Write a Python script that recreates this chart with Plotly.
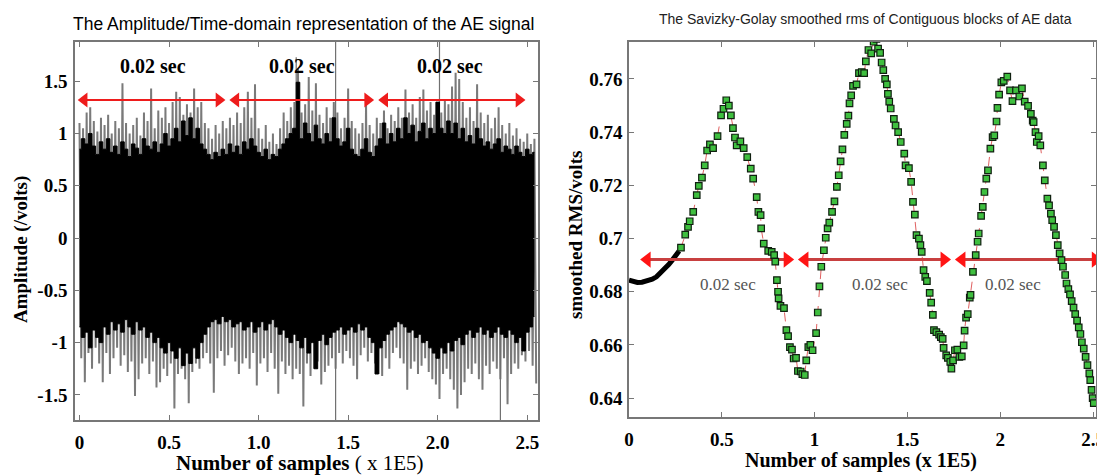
import numpy as np
import plotly.graph_objects as go

W, H = 1097, 475

# ---- left panel: AE signal envelope peaks, one per 0.02 (x 1E5 samples) ----
peak_pos = np.round(np.arange(128) * 0.02, 2)

gray_top = [1.10, 1.05, 1.20, 1.25, 1.12, 1.02, 1.15, 1.08, 1.18, 1.00,
            1.12, 1.05, 1.48, 1.10, 1.00, 1.08, 1.15, 0.98, 1.20, 1.12,
            1.43, 1.05, 1.22, 1.15, 1.25, 1.10, 1.30, 1.40, 1.35, 1.18,
            1.28, 1.20, 1.43, 1.25, 1.30, 1.10, 1.05, 0.95, 1.08, 1.00,
            1.12, 1.05, 1.15, 1.08, 1.20, 1.10, 1.25, 1.40, 1.15, 1.47,
            1.05, 0.95, 1.08, 0.92, 1.00, 0.90, 1.05, 1.20, 1.12, 1.25,
            1.30, 1.62, 1.20, 1.28, 1.54, 1.22, 1.48, 1.18, 1.10, 1.25,
            1.15, 1.30, 1.20, 1.05, 1.15, 1.43, 1.12, 1.05, 1.00, 1.10,
            1.30, 1.08, 1.00, 1.15, 1.10, 1.22, 1.05, 1.18, 1.12, 1.25,
            1.15, 1.42, 1.20, 1.28, 1.15, 1.35, 1.42, 1.22, 1.30, 1.18,
            1.25, 1.20, 1.32, 1.28, 1.45, 1.58, 1.52, 1.30, 1.15, 1.25,
            1.12, 1.47, 1.20, 1.10, 1.18, 1.05, 1.15, 1.25, 1.08, 1.00,
            1.10, 0.98, 1.05, 0.95, 0.92, 1.00, 0.90, 0.95]
gray_bot = [-1.15, -1.38, -1.10, -1.25, -1.05, -1.20, -1.38, -1.10, -1.30, -1.15,
            -1.05, -1.22, -1.12, -1.28, -1.18, -1.51, -1.35, -1.20, -1.15, -1.30,
            -1.18, -1.43, -1.38, -1.25, -1.32, -1.20, -1.63, -1.30, -1.25, -1.35,
            -1.58, -1.28, -1.20, -1.25, -1.15, -1.10, -1.20, -1.48, -1.15, -1.08,
            -1.22, -1.12, -1.05, -1.18, -1.30, -1.20, -1.15, -1.25, -1.10, -1.41,
            -1.20, -1.15, -1.28, -1.10, -1.25, -1.49, -1.18, -1.30, -1.22, -1.35,
            -1.25, -1.30, -1.61, -1.20, -1.32, -1.25, -1.18, -1.40, -1.28, -1.22,
            -1.15, -1.25, -1.10, -1.20, -1.08, -1.15, -1.22, -1.35, -1.12, -1.05,
            -1.18, -1.10, -1.20, -1.30, -1.32, -1.15, -1.25, -1.10, -1.05, -1.15,
            -1.20, -1.45, -1.25, -1.18, -1.30, -1.22, -1.15, -1.28, -1.35, -1.40,
            -1.54, -1.30, -1.25, -1.35, -1.45, -1.63, -1.50, -1.38, -1.25, -1.30,
            -1.20, -1.35, -1.45, -1.22, -1.30, -1.18, -1.25, -1.35, -1.15, -1.59,
            -1.30, -1.20, -1.25, -1.12, -1.18, -1.08, -1.22, -1.39]
black_top = [0.85, 0.95, 0.90, 1.00, 0.88, 0.80, 0.92, 0.85, 0.95, 0.82,
             0.88, 0.80, 0.92, 0.85, 0.78, 0.90, 0.86, 0.80, 0.95, 0.88,
             0.85, 0.92, 0.82, 0.90, 1.00, 0.88, 0.95, 1.05, 0.92, 1.12,
             0.98, 1.15, 0.95, 1.05, 0.90, 0.85, 0.80, 0.75, 0.82, 0.78,
             0.85, 0.80, 0.90, 0.82, 0.88, 0.80, 0.92, 0.85, 0.95, 0.88,
             0.82, 0.78, 0.85, 0.75, 0.80, 0.78, 0.85, 0.90, 0.95, 1.00,
             1.05, 1.49, 0.95, 1.10, 1.00, 0.92, 1.08, 0.95, 0.90, 1.00,
             0.92, 1.15, 0.95, 0.88, 0.92, 1.05, 0.85, 0.80, 0.78, 0.85,
             0.95, 0.82, 0.78, 0.88, 0.95, 1.10, 0.90, 1.00, 0.92, 1.05,
             0.95, 1.15, 1.00, 1.08, 0.92, 1.02, 1.10, 0.95, 1.05, 1.00,
             1.30, 1.05, 1.00, 1.12, 1.00, 1.10, 0.95, 1.05, 0.92, 0.98,
             0.90, 1.05, 0.95, 0.88, 0.92, 0.85, 0.90, 0.95, 0.82, 0.88,
             0.85, 0.80, 0.88, 0.82, 0.78, 0.85, 0.80, 0.82]
black_bot = [-0.85, -0.95, -0.90, -1.05, -0.88, -0.95, -1.00, -0.85, -0.92, -0.80,
             -0.88, -0.82, -0.90, -0.78, -0.85, -0.92, -0.80, -0.88, -0.85, -0.95,
             -0.90, -1.00, -0.95, -1.05, -1.10, -1.00, -1.08, -1.15, -1.05, -1.22,
             -1.10, -1.20, -1.05, -1.15, -1.00, -0.92, -0.85, -0.80, -0.78, -0.82,
             -0.75, -0.80, -0.78, -0.85, -0.82, -0.80, -0.88, -0.85, -0.80, -0.90,
             -0.85, -0.80, -0.88, -0.82, -0.78, -0.85, -0.92, -0.88, -0.95, -1.00,
             -0.92, -0.98, -1.05, -0.95, -1.10, -1.00, -1.25, -0.98, -0.92, -1.02,
             -0.95, -0.90, -0.88, -0.85, -0.92, -0.88, -0.85, -0.90, -0.82, -0.88,
             -0.85, -0.95, -1.00, -1.30, -1.05, -0.98, -0.92, -0.88, -0.85, -0.80,
             -0.82, -0.85, -0.90, -0.88, -0.95, -0.92, -1.00, -0.98, -1.05, -1.10,
             -1.15, -1.05, -1.10, -1.00, -1.08, -0.98, -0.95, -1.02, -0.92, -0.88,
             -0.95, -0.90, -0.85, -0.92, -0.88, -0.95, -0.90, -0.85, -0.92, -0.95,
             -0.88, -0.92, -1.00, -0.95, -1.08, -0.90, -0.85, -0.75]

# isolated glitches that run past the plotted range
glitch_x = [1.21, 1.43, 2.01, 2.35]
glitch_lo = [0.0, -1.9, 0.0, -1.9]
glitch_hi = [1.73, 1.9, 1.9, 0.0]

left_arrow_y = 1.32
left_arrows = [(-0.01, 0.815), (0.837, 1.645), (1.668, 2.49)]
left_label_x = [0.41, 1.24, 2.07]
left_label_y = 1.65

# ---- right panel: Savitzky-Golay smoothed rms ----
start_x = [0.0, 0.02, 0.045, 0.07, 0.10, 0.125, 0.148, 0.17, 0.195, 0.215,
           0.233, 0.25, 0.26, 0.27]
start_y = [0.6844, 0.684, 0.6835, 0.6836, 0.684, 0.6847, 0.6856, 0.687, 0.6888,
           0.6903, 0.6919, 0.6932, 0.694, 0.6953]

rms_x = [0.28, 0.303, 0.318, 0.327, 0.346, 0.365, 0.376, 0.393, 0.408, 0.421,
         0.436, 0.453, 0.477, 0.496, 0.509, 0.524, 0.538, 0.549, 0.56, 0.571,
         0.58, 0.60, 0.618, 0.637, 0.656, 0.669, 0.688, 0.697, 0.709, 0.712,
         0.726, 0.75, 0.769, 0.782, 0.788, 0.797, 0.803, 0.806, 0.816, 0.835,
         0.848, 0.857, 0.867, 0.878, 0.887, 0.90, 0.91, 0.925, 0.934, 0.947,
         0.955, 0.966, 0.977, 0.989, 1.008, 1.017, 1.026, 1.036, 1.05, 1.06,
         1.07, 1.079, 1.094, 1.107, 1.12, 1.13, 1.14, 1.15, 1.16, 1.173,
         1.182, 1.188, 1.197, 1.207, 1.226, 1.239, 1.254, 1.267, 1.276, 1.29,
         1.305, 1.318, 1.333, 1.342, 1.353, 1.361, 1.37, 1.38, 1.389, 1.395,
         1.402, 1.41, 1.427, 1.436, 1.45, 1.464, 1.483, 1.49, 1.508, 1.52,
         1.53, 1.54, 1.549, 1.562, 1.57, 1.577, 1.587, 1.596, 1.605, 1.62,
         1.628, 1.637, 1.643, 1.656, 1.671, 1.68, 1.69, 1.695, 1.709, 1.718,
         1.731, 1.737, 1.746, 1.756, 1.769, 1.78, 1.793, 1.803, 1.808, 1.816,
         1.825, 1.836, 1.84, 1.853, 1.868, 1.878, 1.884, 1.897, 1.906, 1.915,
         1.925, 1.934, 1.947, 1.959, 1.968, 1.98, 1.985, 1.994, 2.006, 2.019,
         2.038, 2.053, 2.066, 2.085, 2.103, 2.117, 2.132, 2.15, 2.165, 2.175,
         2.18, 2.19, 2.197, 2.207, 2.216, 2.23, 2.24, 2.254, 2.263, 2.273,
         2.28, 2.29, 2.30, 2.31, 2.32, 2.33, 2.338, 2.35, 2.357, 2.367,
         2.376, 2.385, 2.395, 2.404, 2.414, 2.423, 2.432, 2.44, 2.45, 2.46,
         2.47, 2.48, 2.485, 2.492, 2.498, 2.504]
rms_y = [0.6966, 0.7015, 0.7044, 0.7065, 0.710, 0.7163, 0.7198, 0.7229, 0.7275, 0.7331,
         0.7354, 0.734, 0.7385, 0.7463, 0.7488, 0.752, 0.750, 0.7463, 0.7415, 0.738,
         0.735, 0.7365, 0.734, 0.7306, 0.7263, 0.7225, 0.7156, 0.710, 0.7088, 0.7038,
         0.6981, 0.6954, 0.695, 0.6938, 0.6913, 0.6844, 0.680, 0.6775, 0.6747, 0.6738,
         0.6656, 0.6633, 0.6592, 0.6582, 0.6549, 0.6551, 0.6502, 0.650, 0.649, 0.6487,
         0.6542, 0.6592, 0.660, 0.658, 0.6644, 0.6722, 0.682, 0.6894, 0.6956, 0.7003,
         0.7038, 0.706, 0.710, 0.714, 0.7194, 0.7238, 0.729, 0.7335, 0.739, 0.7431,
         0.7462, 0.7508, 0.7538, 0.7574, 0.758, 0.7622, 0.7626, 0.7622, 0.7666, 0.7709,
         0.7696, 0.774, 0.7751, 0.7714, 0.7698, 0.7662, 0.7633, 0.760, 0.758, 0.7544,
         0.7515, 0.7489, 0.745, 0.7425, 0.740, 0.7363, 0.7319, 0.7275, 0.7265, 0.7213,
         0.7138, 0.709, 0.7013, 0.700, 0.6975, 0.695, 0.6881, 0.6856, 0.684, 0.6796,
         0.6759, 0.6713, 0.6656, 0.6648, 0.6639, 0.6629, 0.6623, 0.6589, 0.6561, 0.6551,
         0.6536, 0.6511, 0.6542, 0.658, 0.6582, 0.6555, 0.6557, 0.6598, 0.6654, 0.6703,
         0.6716, 0.6778, 0.6788, 0.6875, 0.6938, 0.6988, 0.7019, 0.7085, 0.7119, 0.7175,
         0.7225, 0.7256, 0.7338, 0.7381, 0.7388, 0.744, 0.7491, 0.7541, 0.7587, 0.7593,
         0.7609, 0.7557, 0.7517, 0.7557, 0.7534, 0.7565, 0.7515, 0.7499, 0.7469, 0.7443,
         0.7438, 0.740, 0.7363, 0.7385, 0.735, 0.7275, 0.7219, 0.715, 0.7125, 0.7094,
         0.7069, 0.7044, 0.7013, 0.6975, 0.6944, 0.6919, 0.6894, 0.6863, 0.6831, 0.681,
         0.679, 0.6765, 0.674, 0.6716, 0.6691, 0.6666, 0.6641, 0.661, 0.6586, 0.6555,
         0.6524, 0.6493, 0.6468, 0.6431, 0.640, 0.6381]

right_arrow_y = 0.6921
right_arrows = [(0.06, 0.89), (0.91, 1.735), (1.756, 2.55)]
right_label_x = [0.533, 1.35, 2.07]
right_label_y = 0.6827

# ---- geometry (pixels) ----
L_BOX = (75, 538, 42, 420)     # left, right, top, bottom
R_BOX = (629, 1096, 42, 417)
L_XR, L_YR = [-0.025, 2.56], [-1.74, 1.875]
R_XR, R_YR = [0.0, 2.516], [0.6329, 0.7739]

SERIF = "Liberation Serif, Times New Roman, serif"
SANS = "Liberation Sans, Arial, sans-serif"

fig = go.Figure()

# gray signal drawn as a zigzag between its peaks
zx, zy = [], []
for p, t, b in zip(peak_pos, gray_top, gray_bot):
    zx += [p, p + 0.01]
    zy += [t, b]
fig.add_trace(go.Scatter(x=zx, y=zy, mode="lines", line=dict(color="#7a7a7a", width=2),
                         xaxis="x", yaxis="y", hoverinfo="skip"))
gx, gy = [], []
for x, lo, hi in zip(glitch_x, glitch_lo, glitch_hi):
    gx += [x, x, None]
    gy += [lo, hi, None]
fig.add_trace(go.Scatter(x=gx, y=gy, mode="lines", line=dict(color="#707070", width=1.2),
                         xaxis="x", yaxis="y", hoverinfo="skip"))
# black core, stepped so the edge reads as a comb of spikes
fig.add_trace(go.Scatter(x=peak_pos, y=black_bot, mode="lines", line_shape="hvh",
                         line=dict(color="black", width=1),
                         xaxis="x", yaxis="y", hoverinfo="skip"))
fig.add_trace(go.Scatter(x=peak_pos, y=black_top, mode="lines", line_shape="hvh",
                         fill="tonexty", fillcolor="black", line=dict(color="black", width=1),
                         xaxis="x", yaxis="y", hoverinfo="skip"))


def add_arrows(segs, y, xr, box, xa, ya, line_col, head_col, lw, size):
    ppu = (box[1] - box[0]) / (xr[1] - xr[0])
    off = size / 2 / ppu
    for a, b in segs:
        fig.add_trace(go.Scatter(x=[a + off, b - off], y=[y, y], mode="lines",
                                 line=dict(color=line_col, width=lw),
                                 xaxis=xa, yaxis=ya, hoverinfo="skip"))
        fig.add_trace(go.Scatter(x=[a + off, b - off], y=[y, y], mode="markers",
                                 marker=dict(symbol=["triangle-left", "triangle-right"],
                                             size=size, color=head_col, line_width=0),
                                 xaxis=xa, yaxis=ya, hoverinfo="skip"))


add_arrows(left_arrows, left_arrow_y, L_XR, L_BOX, "x", "y", "#ee1c1c", "#ee1c1c", 2, 13)

# right panel traces
fig.add_trace(go.Scatter(x=start_x, y=start_y, mode="lines", line=dict(color="black", width=5),
                         xaxis="x2", yaxis="y2", hoverinfo="skip"))
fig.add_trace(go.Scatter(x=rms_x, y=rms_y, mode="lines",
                         line=dict(color="#e06060", width=1, dash="dash"),
                         xaxis="x2", yaxis="y2", hoverinfo="skip"))
add_arrows(right_arrows, right_arrow_y, R_XR, R_BOX, "x2", "y2", "#c84040", "#ff1414", 3, 14)
fig.add_trace(go.Scatter(x=rms_x, y=rms_y, mode="markers",
                         marker=dict(symbol="square", size=6.5, color="#3fbf3f",
                                     line=dict(color="#102010", width=1.2)),
                         xaxis="x2", yaxis="y2", hoverinfo="skip"))


def dom_x(box):
    return [box[0] / W, box[1] / W]


def dom_y(box):
    return [1 - box[3] / H, 1 - box[2] / H]


axis_common = dict(showline=True, mirror="ticks", linecolor="#777", linewidth=1.5,
                   ticks="inside", ticklen=5, tickcolor="#777", showgrid=False,
                   zeroline=False, automargin=False, ticklabeloverflow="allow",
                   tickfont=dict(family=SERIF, size=19, color="black"))

fig.update_layout(
    width=W, height=H, showlegend=False,
    margin=dict(l=0, r=0, t=0, b=0, pad=0, autoexpand=False),
    paper_bgcolor="white", plot_bgcolor="white",
    xaxis=dict(domain=dom_x(L_BOX), range=L_XR, anchor="y",
               tickvals=[0, 0.5, 1, 1.5, 2, 2.5],
               ticktext=["<b>0</b>", "<b>0.5</b>", "<b>1.0</b>", "<b>1.5</b>", "<b>2.0</b>", "<b>2.5</b>"],
               ticklabelstandoff=4, **axis_common),
    yaxis=dict(domain=dom_y(L_BOX), range=L_YR, anchor="x",
               tickvals=[-1.5, -1, -0.5, 0, 0.5, 1, 1.5],
               ticktext=["<b>-1.5</b>", "<b>-1</b>", "<b>-0.5</b>", "<b>0</b>", "<b>0.5</b>", "<b>1</b>", "<b>1.5</b>"],
               ticklabelstandoff=2, **axis_common),
    xaxis2=dict(domain=dom_x(R_BOX), range=R_XR, anchor="y2",
                tickvals=[0, 0.5, 1, 1.5, 2, 2.5],
                ticktext=["<b>0</b>", "<b>0.5</b>", "<b>1</b>", "<b>1.5</b>", "<b>2</b>", "<b>2.5</b>"],
                ticklabelstandoff=4, **axis_common),
    yaxis2=dict(domain=dom_y(R_BOX), range=R_YR, anchor="x2",
                tickvals=[0.64, 0.66, 0.68, 0.70, 0.72, 0.74, 0.76],
                ticktext=["<b>0.64</b>", "<b>0.66</b>", "<b>0.68</b>", "<b>0.7</b>", "<b>0.72</b>", "<b>0.74</b>", "<b>0.76</b>"],
                ticklabelstandoff=1, **axis_common),
)


def label(text, px, py, size, family, color="black", angle=0):
    return dict(text=text, x=px / W, y=1 - py / H, xref="paper", yref="paper",
                xanchor="center", yanchor="middle", showarrow=False, textangle=angle,
                font=dict(family=family, size=size, color=color))


ann = [
    label("The Amplitude/Time-domain representation of the AE signal", 303, 24, 17.5, SANS),
    label("The Savizky-Golay smoothed rms of Contiguous blocks of AE data", 865, 19, 14, SANS, "#222"),
    label("<b>Number of samples</b> ( x 1E5)", 300, 463, 21, SERIF),
    label("<b>Number of samples (x 1E5)</b>", 861, 460, 20, SERIF),
    label("<b>Amplitude (/volts)</b>", 21, 250, 19, SERIF, angle=-90),
    label("<b>smoothed RMS/volts</b>", 575, 235, 19, SERIF, angle=-90),
]
for lx in left_label_x:
    ann.append(dict(text="<b>0.02 sec</b>", x=lx, y=left_label_y, xref="x", yref="y",
                    xanchor="center", yanchor="middle", showarrow=False,
                    font=dict(family=SERIF, size=20, color="black")))
for rx in right_label_x:
    ann.append(dict(text="0.02 sec", x=rx, y=right_label_y, xref="x2", yref="y2",
                    xanchor="center", yanchor="middle", showarrow=False,
                    font=dict(family=SERIF, size=17, color="#555")))
fig.update_layout(annotations=ann)

# the page body carries a default 8px margin; drop it so pixels line up
fig.write_html("out.html", config={"displayModeBar": False},
               post_script="document.body.style.margin='0';")
